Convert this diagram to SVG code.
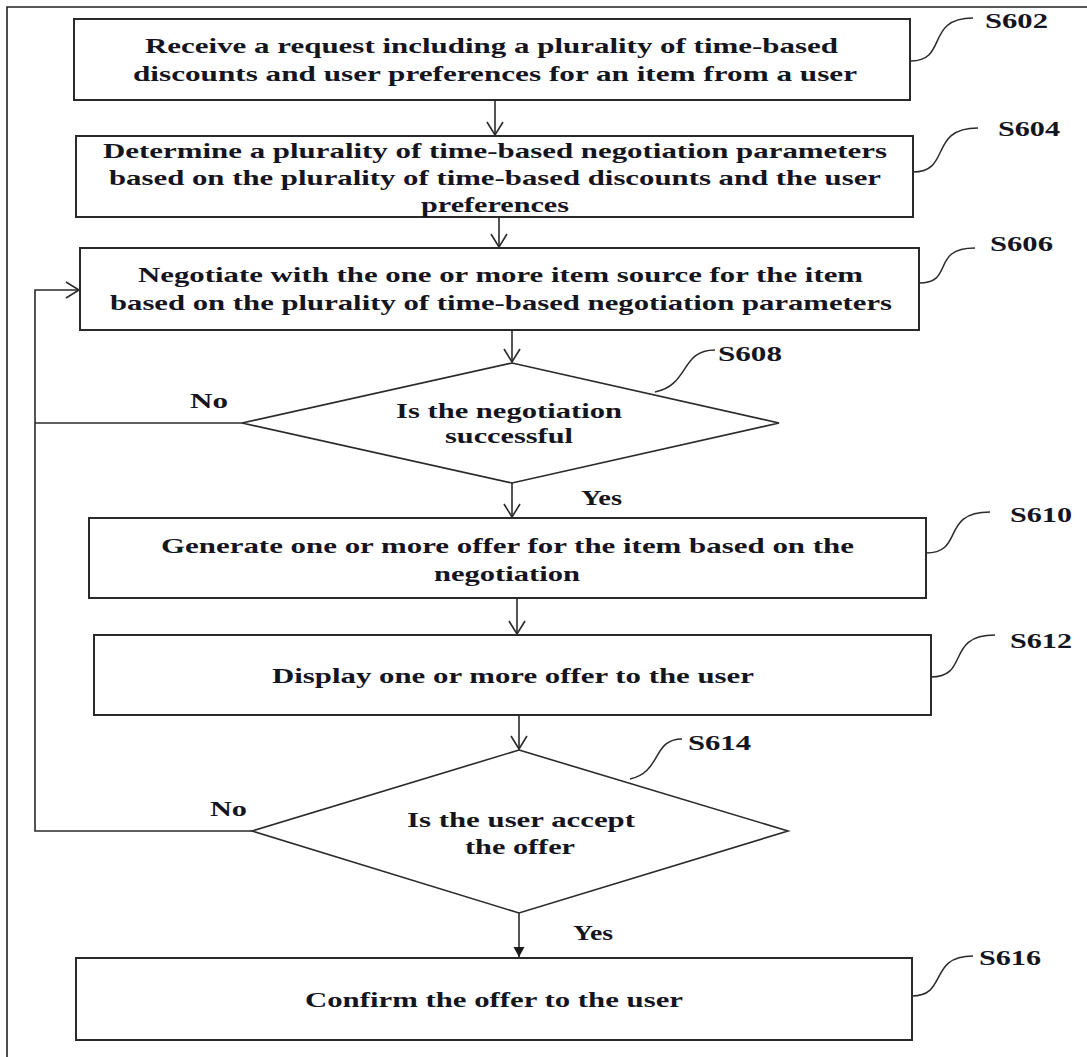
<svg xmlns="http://www.w3.org/2000/svg" width="1087" height="1057" viewBox="0 0 1087 1057">
<style>
.box{fill:#fff;stroke:#2a2a2a;stroke-width:2}
.dia{fill:#fff;stroke:#2a2a2a;stroke-width:1.6}
.ln{fill:none;stroke:#2a2a2a;stroke-width:1.6}
.lead{fill:none;stroke:#2a2a2a;stroke-width:1.5}
text{font-family:"Liberation Serif","Times New Roman",serif;font-weight:bold;font-size:21px;fill:#15151f}
</style>
<defs>
<marker id="open" markerUnits="userSpaceOnUse" markerWidth="20" markerHeight="20" viewBox="-14 -10 16 20" refX="0" refY="0" orient="auto">
<path d="M-13,-8 L0,0 L-13,8" fill="none" stroke="#2a2a2a" stroke-width="1.6"/>
</marker>
<marker id="filled" markerUnits="userSpaceOnUse" markerWidth="14" markerHeight="14" viewBox="-11 -7 12 14" refX="0" refY="0" orient="auto">
<path d="M-10,-5.5 L0,0 L-10,5.5 Z" fill="#1a1a1a"/>
</marker>
</defs>
<rect x="0" y="0" width="1087" height="1057" fill="#fff"/>
<path d="M7,1057 L7,7 L1087,7" fill="none" stroke="#222" stroke-width="1.6"/>

<g id="connectors">
<line class="ln" x1="495" y1="100" x2="495" y2="135" marker-end="url(#open)"/>
<line class="ln" x1="499" y1="217" x2="499" y2="247" marker-end="url(#open)"/>
<line class="ln" x1="512" y1="331" x2="512" y2="362" marker-end="url(#open)"/>
<line class="ln" x1="512" y1="483" x2="512" y2="517" marker-end="url(#open)"/>
<line class="ln" x1="517" y1="598" x2="517" y2="634" marker-end="url(#open)"/>
<line class="ln" x1="519" y1="715" x2="519" y2="749" marker-end="url(#open)"/>
<line class="ln" x1="519" y1="913" x2="519" y2="957" marker-end="url(#filled)"/>
<path class="ln" d="M242,423 L35,423"/>
<path class="ln" d="M252,831 L35,831 L35,290 L79,290" marker-end="url(#open)"/>
<text x="190" y="408" textLength="38" lengthAdjust="spacingAndGlyphs">No</text>
<text x="581" y="505" textLength="41" lengthAdjust="spacingAndGlyphs">Yes</text>
<text x="210" y="816" textLength="37" lengthAdjust="spacingAndGlyphs">No</text>
<text x="573" y="940" textLength="40" lengthAdjust="spacingAndGlyphs">Yes</text>
</g>

<g id="S602">
<rect class="box" x="74" y="19" width="836" height="81"/>
<text x="145" y="53" textLength="693" lengthAdjust="spacingAndGlyphs">Receive a request including a plurality of time-based</text>
<text x="133" y="81" textLength="724" lengthAdjust="spacingAndGlyphs">discounts and user preferences for an item from a user</text>
<path class="lead" d="M911,61 C948,61 925,18 973,18"/>
<text x="985" y="28" textLength="63" lengthAdjust="spacingAndGlyphs">S602</text>
</g>

<g id="S604">
<rect class="box" x="76" y="136" width="837" height="81"/>
<text x="103" y="158" textLength="784" lengthAdjust="spacingAndGlyphs">Determine a plurality of time-based negotiation parameters</text>
<text x="109" y="185" textLength="772" lengthAdjust="spacingAndGlyphs">based on the plurality of time-based discounts and the user</text>
<text x="421" y="212" textLength="148" lengthAdjust="spacingAndGlyphs">preferences</text>
<path class="lead" d="M913,172 C952,172 928,128 978,128"/>
<text x="998" y="136" textLength="62" lengthAdjust="spacingAndGlyphs">S604</text>
</g>

<g id="S606">
<rect class="box" x="80" y="248" width="839" height="82"/>
<text x="138" y="282" textLength="725" lengthAdjust="spacingAndGlyphs">Negotiate with the one or more item source for the item</text>
<text x="110" y="310" textLength="782" lengthAdjust="spacingAndGlyphs">based on the plurality of time-based negotiation parameters</text>
<path class="lead" d="M919,283 C955,283 930,248 975,248"/>
<text x="990" y="251" textLength="63" lengthAdjust="spacingAndGlyphs">S606</text>
</g>

<g id="S608">
<polygon class="dia" points="512,363 779,423 512,483 242,423"/>
<text x="396" y="418" textLength="226" lengthAdjust="spacingAndGlyphs">Is the negotiation</text>
<text x="445" y="443" textLength="128" lengthAdjust="spacingAndGlyphs">successful</text>
<path class="lead" d="M655,392 C690,385 680,350 715,350"/>
<text x="718" y="361" textLength="64" lengthAdjust="spacingAndGlyphs">S608</text>
</g>

<g id="S610">
<rect class="box" x="89" y="518" width="837" height="80"/>
<text x="161" y="553" textLength="693" lengthAdjust="spacingAndGlyphs">Generate one or more offer for the item based on the</text>
<text x="434" y="581" textLength="146" lengthAdjust="spacingAndGlyphs">negotiation</text>
<path class="lead" d="M926,553 C965,553 940,512 990,512"/>
<text x="1010" y="522" textLength="62" lengthAdjust="spacingAndGlyphs">S610</text>
</g>

<g id="S612">
<rect class="box" x="94" y="635" width="837" height="80"/>
<text x="272" y="683" textLength="482" lengthAdjust="spacingAndGlyphs">Display one or more offer to the user</text>
<path class="lead" d="M931,677 C970,677 945,635 995,635"/>
<text x="1010" y="648" textLength="62" lengthAdjust="spacingAndGlyphs">S612</text>
</g>

<g id="S614">
<polygon class="dia" points="519,750 788,831 519,913 252,831"/>
<text x="407" y="827" textLength="228" lengthAdjust="spacingAndGlyphs">Is the user accept</text>
<text x="465" y="854" textLength="110" lengthAdjust="spacingAndGlyphs">the offer</text>
<path class="lead" d="M630,779 C662,772 652,739 682,739"/>
<text x="688" y="750" textLength="63" lengthAdjust="spacingAndGlyphs">S614</text>
</g>

<g id="S616">
<rect class="box" x="76" y="958" width="836" height="82"/>
<text x="305" y="1007" textLength="378" lengthAdjust="spacingAndGlyphs">Confirm the offer to the user</text>
<path class="lead" d="M912,996 C948,996 928,956 973,956"/>
<text x="979" y="965" textLength="62" lengthAdjust="spacingAndGlyphs">S616</text>
</g>
</svg>
